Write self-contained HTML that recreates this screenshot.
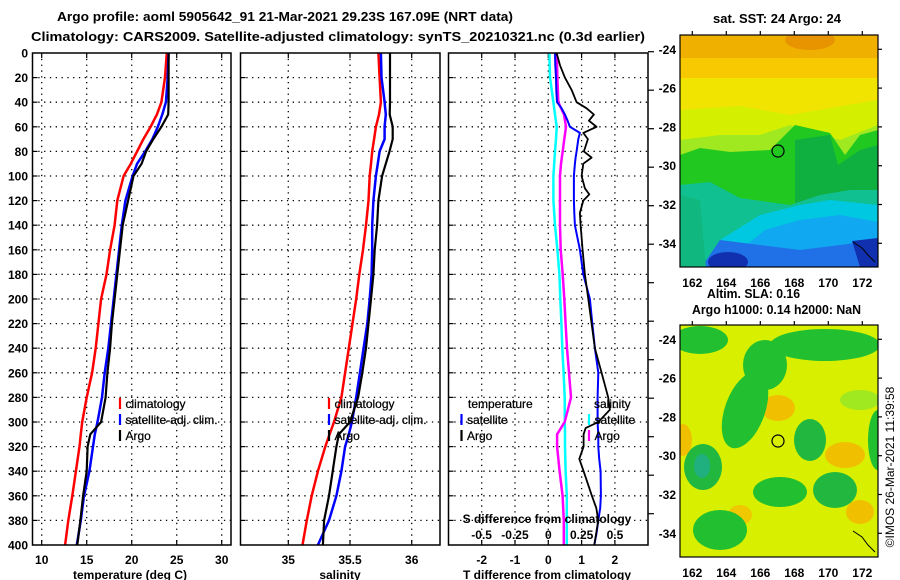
<!DOCTYPE html>
<html><head><meta charset="utf-8"><style>
html,body{margin:0;padding:0;background:#fff}
svg{display:block}
text{font-family:"Liberation Sans",sans-serif;fill:#000}
.b{font-weight:bold;font-size:12px}
.t{font-weight:bold;font-size:13px}
.lg{font-size:12px;stroke:#000;stroke-width:0.25}
</style></head><body>
<svg id="svg" width="900" height="580" viewBox="0 0 900 580" xmlns="http://www.w3.org/2000/svg">
<rect width="900" height="580" fill="#fff"/>
<text class="t" x="57" y="21" textLength="456" lengthAdjust="spacingAndGlyphs">Argo profile: aoml 5905642_91 21-Mar-2021 29.23S 167.09E (NRT data)</text>
<text class="t" x="31" y="41" textLength="614" lengthAdjust="spacingAndGlyphs">Climatology: CARS2009. Satellite-adjusted climatology: synTS_20210321.nc (0.3d earlier)</text>
<g id="plots"></g>
<g id="maps">
 <text class="t" x="777" y="23" text-anchor="middle" textLength="128" lengthAdjust="spacingAndGlyphs">sat. SST: 24 Argo: 24</text>
 <g>
  <clipPath id="c1"><rect x="680" y="35" width="198" height="232"/></clipPath>
  <g clip-path="url(#c1)">
   <rect x="680" y="35" width="198" height="232" fill="#f0b000"/>
   <ellipse cx="810" cy="40" rx="25" ry="10" fill="#e89400"/>
   <rect x="680" y="58" width="198" height="209" fill="#f8c800"/>
   <rect x="680" y="78" width="198" height="189" fill="#f0e400"/>
   <polygon points="680,110 740,106 790,115 878,100 878,267 680,267" fill="#d4f000"/>
   <polygon points="680,140 720,135 760,135 790,125 840,140 878,125 878,267 680,267" fill="#a0e820"/>
   <polygon points="680,155 700,148 730,152 770,150 795,125 830,133 845,155 860,135 878,130 878,267 680,267" fill="#20c820"/>
   <polygon points="795,140 830,135 838,165 860,150 878,145 878,267 795,267" fill="#10b040"/>
   <polygon points="680,185 710,182 740,198 790,205 820,195 850,190 878,190 878,267 680,267" fill="#10c090"/>
   <polygon points="720,240 760,215 800,205 830,200 878,205 878,267 720,267" fill="#00c8e0"/>
   <polygon points="740,250 765,230 800,220 840,215 878,222 878,267 740,267" fill="#10a8f0"/>
   <polygon points="705,262 720,240 760,245 800,250 840,245 878,240 878,267 705,267" fill="#2070e8"/>
   <ellipse cx="728" cy="262" rx="20" ry="10" fill="#1030b0"/>
   <polygon points="852,241 878,238 878,267 860,267" fill="#1030b0"/>
   <polygon points="680,195 700,200 706,267 680,267" fill="#10b880"/>
   <polyline points="853,242 862,248 868,255 875,262" fill="none" stroke="#000" stroke-width="1"/>
  </g>
  <circle cx="778" cy="151" r="6" fill="none" stroke="#000" stroke-width="1.2"/>
  <rect x="680" y="35" width="198" height="232" fill="none" stroke="#000" stroke-width="1.2"/>
 </g>
 <text class="t" x="707" y="298" textLength="93" lengthAdjust="spacingAndGlyphs">Altim. SLA: 0.16</text>
 <text class="t" x="692" y="314" textLength="169" lengthAdjust="spacingAndGlyphs">Argo h1000: 0.14 h2000: NaN</text>
 <g>
  <clipPath id="c2"><rect x="680" y="325" width="198" height="232"/></clipPath>
  <g clip-path="url(#c2)">
   <rect x="680" y="325" width="198" height="232" fill="#d8f000"/>
   <ellipse cx="683" cy="440" rx="9" ry="16" fill="#f0c000"/>
   <ellipse cx="778" cy="408" rx="17" ry="13" fill="#f0c000"/>
   <ellipse cx="845" cy="455" rx="20" ry="13" fill="#f0c000"/>
   <ellipse cx="860" cy="512" rx="14" ry="12" fill="#f0c000"/>
   <ellipse cx="740" cy="515" rx="12" ry="10" fill="#f0c800"/>
   <ellipse cx="700" cy="340" rx="28" ry="14" fill="#22c030"/>
   <ellipse cx="825" cy="345" rx="55" ry="16" fill="#22c030"/>
   <ellipse cx="765" cy="365" rx="22" ry="25" fill="#22c030"/>
   <ellipse cx="745" cy="410" rx="20" ry="40" fill="#22c030" transform="rotate(20 745 410)"/>
   <ellipse cx="703" cy="467" rx="19" ry="23" fill="#22b840"/>
   <ellipse cx="702" cy="466" rx="8" ry="12" fill="#20b080"/>
   <ellipse cx="810" cy="440" rx="16" ry="21" fill="#22b840"/>
   <ellipse cx="780" cy="492" rx="27" ry="15" fill="#22c030"/>
   <ellipse cx="835" cy="490" rx="22" ry="18" fill="#22b840"/>
   <ellipse cx="720" cy="530" rx="27" ry="20" fill="#22c030"/>
   <ellipse cx="878" cy="440" rx="10" ry="30" fill="#22c030"/>
   <ellipse cx="860" cy="400" rx="20" ry="10" fill="#a0e820"/>
   <polyline points="853,531 862,537 868,545 875,552" fill="none" stroke="#000" stroke-width="1"/>
  </g>
  <circle cx="778" cy="441" r="6" fill="none" stroke="#000" stroke-width="1.2"/>
  <rect x="680" y="325" width="198" height="232" fill="none" stroke="#000" stroke-width="1.2"/>
 </g>
 <text class="b" transform="translate(894 467) rotate(-90)" text-anchor="middle" style="font-weight:normal">©IMOS 26-Mar-2021 11:39:58</text>
</g>
</svg>
<script>
// depth grid for temperature / salinity panels
const depth = [0,20,40,50,60,70,80,90,100,120,140,160,180,200,220,240,260,280,300,310,320,340,360,380,400];
const argoT = [24.1,24.1,24.1,24.05,23.3,22.4,21.6,21.1,20.2,19.6,19.0,18.7,18.4,18.1,17.8,17.6,17.3,17.1,16.6,15.4,15.1,15.0,14.6,14.3,13.95];
const satT = [24.1,24.0,23.8,23.4,22.9,22.3,21.5,20.6,20.1,19.3,18.9,18.6,18.3,18.0,17.7,17.4,17.0,16.7,16.2,15.9,15.7,15.3,14.7,14.35,13.9];
const climT = [23.9,23.7,23.3,22.8,22.1,21.3,20.6,19.9,19.1,18.4,18.1,17.6,17.2,16.6,16.3,16.0,15.6,15.0,14.5,14.35,14.2,13.8,13.4,12.95,12.6];
const argoS = [35.824,35.824,35.824,35.822,35.846,35.846,35.82,35.79,35.76,35.73,35.72,35.70,35.69,35.67,35.65,35.63,35.60,35.566,35.50,35.41,35.39,35.36,35.33,35.29,35.28];
const satS = [35.75,35.755,35.78,35.79,35.78,35.78,35.74,35.725,35.71,35.69,35.68,35.68,35.675,35.66,35.64,35.61,35.58,35.55,35.515,35.49,35.46,35.43,35.39,35.33,35.24];
const climS = [35.73,35.74,35.75,35.735,35.71,35.695,35.68,35.67,35.66,35.65,35.63,35.605,35.575,35.55,35.52,35.49,35.46,35.43,35.37,35.335,35.30,35.24,35.19,35.15,35.115];
const argoSd = [0.063,0.068,0.075,0.118,0.133,0.12,0.108,0.095,0.088,0.088,0.088,0.093,0.108,0.12,0.13,0.14,0.155,0.17,0.123,0.066,0.066,0.085,0.107,0.116,0.116];
const satSd = [0.008,0.013,0.038,0.05,0.063,0.058,0.05,0.044,0.038,0.038,0.05,0.068,0.083,0.09,0.098,0.105,0.115,0.123,0.124,0.125,0.125,0.13,0.139,0.139,0.139];
// finer depth grid for temperature differences
const dDepth = [0,10,20,30,40,45,50,55,60,65,70,80,85,90,100,110,115,120,130,140,160,180,200,220,240,260,280,290,300,305,310,320,330,340,360,370,380,390,400];
const argoTd = [0.25,0.35,0.5,0.7,0.85,1.15,1.37,1.22,1.45,1.05,1.19,1.07,1.3,1.05,1.0,1.1,1.23,1.05,0.95,0.97,1.03,1.1,1.2,1.3,1.4,1.6,1.8,1.85,1.5,1.12,1.06,1.06,0.93,1.06,1.31,1.44,1.5,1.44,1.38];
const satTd = [0.2,0.21,0.23,0.24,0.26,0.4,0.5,0.58,0.65,0.95,0.9,0.85,0.82,0.8,0.77,0.77,0.77,0.77,0.78,0.8,0.95,1.05,1.25,1.32,1.4,1.5,1.48,1.48,1.48,1.49,1.5,1.5,1.53,1.57,1.58,1.56,1.5,1.45,1.38];
// tick labels
const depthTicks = [0,20,40,60,80,100,120,140,160,180,200,220,240,260,280,300,320,340,360,380,400];
const tTicks = [10,15,20,25,30];
const sTicks = [35,35.5,36];
const tdTicks = [-2,-1,0,1,2];
const sdTicks = [-0.5,-0.25,0,0.25,0.5];
const sdTickLabels = ["-0.5","-0.25","0","0.25","0.5"];
const lonTicks = [162,164,166,168,170,172];
const latTicks = [-24,-26,-28,-30,-32,-34];

const NS='http://www.w3.org/2000/svg';
const root=document.getElementById('plots');
const maps=document.getElementById('maps');
function mk(tag,attrs,parent){const e=document.createElementNS(NS,tag);for(const k in attrs)e.setAttribute(k,attrs[k]);(parent||root).appendChild(e);return e;}
const yD=d=>53+d*1.23;
const xT=t=>41.7+9*(t-10);
const xS=s=>288.3+123.4*(s-35);
const xTd=v=>548.3+33.3*v;
const xSd=v=>548.3+133.3*v;
const panels=[{x0:32.5,x1:231,name:'temperature-panel'},{x0:240.5,x1:440,name:'salinity-panel'},{x0:448.5,x1:648,name:'difference-panel'}];

panels.forEach((p,i)=>{
  const g=mk('g',{});
  
  
  depthTicks.forEach(d=>{ if(d>0&&d<400){
    const l=mk('line',{x1:p.x0,x2:p.x1,y1:yD(d),y2:yD(d),stroke:'#000','stroke-width':1.3,'stroke-dasharray':'1.3 4.5'},g);
    
    
    mk('line',{x1:p.x0,x2:p.x0+5,y1:yD(d),y2:yD(d),stroke:'#000','stroke-width':1.2},g);
  }});
  p.g=g;
});
function vgrid(p,vals,fx){vals.forEach(v=>{const x=fx(v);
  const l=mk('line',{x1:x,x2:x,y1:53,y2:545,stroke:'#000','stroke-width':1.3,'stroke-dasharray':'1.3 4.5'},p.g);
  
  
  mk('line',{x1:x,x2:x,y1:53,y2:58,stroke:'#000','stroke-width':1.2},p.g);
  mk('line',{x1:x,x2:x,y1:540,y2:545,stroke:'#000','stroke-width':1.2},p.g);
});}
vgrid(panels[0],tTicks,xT);vgrid(panels[1],sTicks,xS);vgrid(panels[2],tdTicks,xTd);

// right-side ticks of difference panel
for(let y=51.7;y<=546;y+=38.5){mk('line',{x1:648,x2:654,y1:y,y2:y,stroke:'#000','stroke-width':1.2});}

function series(xs,ds,fx,color,w,name){
  const pts=xs.map((v,i)=>fx(v).toFixed(1)+','+yD(ds[i]).toFixed(1)).join(' ');
  const l=mk('polyline',{points:pts,fill:'none',stroke:color,'stroke-width':w,'stroke-linejoin':'round'});
  
  
}
series(climT,depth,xT,'#f00',2.5,'climatology-temperature-line');
series(satT,depth,xT,'#00f',2.5,'satellite-temperature-line');
series(argoT,depth,xT,'#000',2.2,'argo-temperature-line');
series(climS,depth,xS,'#f00',2.5,'climatology-salinity-line');
series(satS,depth,xS,'#00f',2.5,'satellite-salinity-line');
series(argoS,depth,xS,'#000',2.2,'argo-salinity-line');
series(satSd,depth,xSd,'#0ff',2.5,'satellite-salinity-difference-line');
series(argoSd,depth,xSd,'#f0f',2.5,'argo-salinity-difference-line');
series(satTd,dDepth,xTd,'#00f',2,'satellite-temperature-difference-line');
series(argoTd,dDepth,xTd,'#000',1.8,'argo-temperature-difference-line');

panels.forEach(p=>{const r=mk('rect',{x:p.x0,y:53,width:p.x1-p.x0,height:492,fill:'none',stroke:'#000','stroke-width':1.5});
  
  });

function txt(s,x,y,cls,anchor,name,parent){const t=mk('text',{x:x,y:y,class:cls,'text-anchor':anchor||'start'},parent);t.textContent=s;
  
  return t;}
depthTicks.forEach(d=>txt(String(d),28,yD(d)+4.5,'b','end','depth-tick-label'));
tTicks.forEach(v=>txt(String(v),xT(v),564,'b','middle','temperature-tick-label'));
sTicks.forEach(v=>txt(String(v),xS(v),564,'b','middle','salinity-tick-label'));
tdTicks.forEach(v=>txt(String(v),xTd(v),564,'b','middle','t-difference-tick-label'));
sdTicks.forEach((v,i)=>txt(sdTickLabels[i],xSd(v),539,'b','middle','s-difference-tick-label'));
txt('temperature (deg C)',130,579,'b','middle','temperature-axis-title');
txt('salinity',340,579,'b','middle','salinity-axis-title');
txt('T difference from climatology',547,579,'b','middle','t-difference-axis-title');
txt('S difference from climatology',547,523,'b','middle','s-difference-axis-title');

function legend(x,y,color,label,name){
  if(color){const m=mk('line',{x1:x,x2:x,y1:y-6,y2:y+5,stroke:color,'stroke-width':2.2});
    
    }
  txt(label,x+5.5,y+4,'lg','start',name+'-label');
}
legend(120,404,'#f00','climatology','legend-climatology-temp');
legend(120,420,'#00f','satellite-adj. clim.','legend-satellite-temp');
legend(120,436,'#000','Argo','legend-argo-temp');
legend(329,404,'#f00','climatology','legend-climatology-sal');
legend(329,420,'#00f','satellite-adj. clim.','legend-satellite-sal');
legend(329,436,'#000','Argo','legend-argo-sal');
txt('temperature',468,408,'lg','start','legend-temperature-heading');
txt('salinity',594,408,'lg','start','legend-salinity-heading');
legend(461.5,420,'#00f','satellite','legend-satellite-tdiff');
legend(461.5,436,'#000','Argo','legend-argo-tdiff');
legend(589,420,'#0ff','satellite','legend-satellite-sdiff');
legend(589,436,'#f0f','Argo','legend-argo-sdiff');

// map axes
const lonX=v=>692.3+17*(v-162);
[[35,267,'sst'],[325,557,'sla']].forEach(([top,bot,nm])=>{
  const latY=v=>(top===35?49.3:339.3)+19.4*(-24-v);
  lonTicks.forEach(v=>{
    mk('line',{x1:lonX(v),x2:lonX(v),y1:top-4,y2:top,stroke:'#000','stroke-width':1.2},maps);
    txt(String(v),lonX(v),bot+20,'b','middle',nm+'-lon-tick-label',maps);
  });
  latTicks.forEach(v=>{
    mk('line',{x1:878,x2:882,y1:latY(v),y2:latY(v),stroke:'#000','stroke-width':1.2},maps);
    txt(String(v),676,latY(v)+4.5,'b','end',nm+'-lat-tick-label',maps);
  });
});
</script>
</body></html>
